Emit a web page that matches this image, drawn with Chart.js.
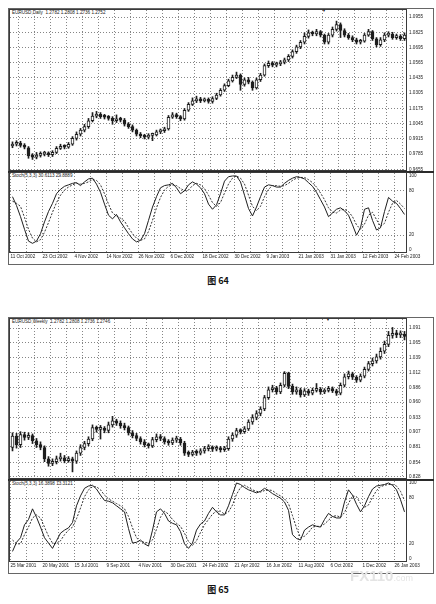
<!DOCTYPE html>
<html><head><meta charset="utf-8">
<script src="https://cdn.jsdelivr.net/npm/chart.js@4.4.0/dist/chart.umd.min.js"></script>
<style>
html,body{margin:0;padding:0;background:#fff;}
body{width:436px;height:604px;position:relative;overflow:hidden;font-family:"Liberation Sans",Arial,sans-serif;}
canvas{position:absolute;}
.box{position:absolute;box-sizing:border-box;border:1px solid #3a3a3a;}
.frame{position:absolute;box-sizing:border-box;border:1px solid #666;}
.sep{position:absolute;background:#2a2a2a;}
.t{position:absolute;font-size:4.6px;color:#222;white-space:nowrap;line-height:1;}
.cap{position:absolute;left:0;width:436px;text-align:center;font-family:"Noto Sans CJK SC",sans-serif;font-weight:bold;font-size:9px;color:#111;line-height:1;}
.wm{position:absolute;color:#e4e4e4;font-family:"Liberation Sans",sans-serif;font-weight:bold;font-size:15px;line-height:1;}
</style></head><body>

<!-- Figure 64 frames -->
<div class="frame" style="left:8px;top:8px;width:426px;height:257px;"></div>
<div class="box" style="left:9px;top:9px;width:398px;height:162px;"></div>
<div class="sep" style="left:8px;top:171px;width:426px;height:1.5px;"></div>
<div class="box" style="left:9px;top:172px;width:398px;height:81px;"></div>
<div class="t" style="left:12px;top:11px;">EURUSD,Daily&nbsp;&nbsp;1.2782 1.2808 1.2736 1.2752</div>
<div class="t" style="left:12px;top:174px;">Stoch(5,3,3) 30.6113 29.8889</div>
<div class="t" style="left:322px;top:9px;font-size:4px;">&#9660;</div>

<!-- Figure 65 frames -->
<div class="frame" style="left:8px;top:317px;width:426px;height:257px;"></div>
<div class="box" style="left:9px;top:318px;width:398px;height:161px;"></div>
<div class="sep" style="left:8px;top:479px;width:426px;height:1.5px;"></div>
<div class="box" style="left:9px;top:480px;width:398px;height:82px;"></div>
<div class="t" style="left:12px;top:320px;">EURUSD,Weekly&nbsp;&nbsp;1.2782 1.2808 1.2736 1.2746</div>
<div class="t" style="left:12px;top:482px;">Stoch(5,3,3) 16.3898 13.3121</div>
<div class="t" style="left:326px;top:318px;font-size:4px;">&#9660;</div>

<canvas id="p64" width="424" height="163" style="left:10px;top:10px;"></canvas>
<canvas id="s64" width="424" height="90" style="left:10px;top:173px;"></canvas>
<canvas id="p65" width="424" height="162" style="left:10px;top:319px;"></canvas>
<canvas id="s65" width="424" height="91" style="left:10px;top:481px;"></canvas>

<div class="cap" style="top:276px;">图 64</div>
<div class="cap" style="top:585px;">图 65</div>
<div class="wm" style="left:350px;top:568px;">FX110<span style="font-size:9px;font-weight:normal;">.com</span></div>

<script>
// ---------- Figure 64 (EURUSD Daily) ----------
const X64_LABELS = ['11 Oct 2002','23 Oct 2002','4 Nov 2002','14 Nov 2002','26 Nov 2002','6 Dec 2002','18 Dec 2002','30 Dec 2002','9 Jan 2003','21 Jan 2003','31 Jan 2003','12 Feb 2003','24 Feb 2003'];
const Y64_TICKS = [1.0955,1.0825,1.0695,1.0565,1.0435,1.0305,1.0175,1.0045,0.9915,0.9785,0.9655];
const O64 = [0.9855,0.9870,0.9880,0.9860,0.9840,0.9770,0.9760,0.9775,0.9785,0.9790,
 0.9780,0.9800,0.9835,0.9850,0.9845,0.9870,0.9920,0.9955,0.9990,1.0020,
 1.0070,1.0110,1.0125,1.0105,1.0100,1.0090,1.0070,1.0085,1.0075,1.0040,
 1.0020,0.9990,0.9955,0.9940,0.9930,0.9945,0.9950,0.9975,0.9985,1.0000,
 1.0100,1.0120,1.0105,1.0085,1.0160,1.0210,1.0240,1.0255,1.0240,1.0250,
 1.0235,1.0260,1.0290,1.0330,1.0370,1.0410,1.0440,1.0460,1.0380,1.0420,
 1.0400,1.0350,1.0420,1.0460,1.0540,1.0560,1.0545,1.0555,1.0570,1.0590,
 1.0620,1.0660,1.0700,1.0740,1.0790,1.0820,1.0810,1.0830,1.0800,1.0740,
 1.0800,1.0850,1.0890,1.0840,1.0800,1.0780,1.0760,1.0740,1.0750,1.0800,
 1.0830,1.0770,1.0720,1.0760,1.0800,1.0810,1.0780,1.0790,1.0770];
const H64 = [0.9890,0.9900,0.9895,0.9875,0.9850,0.9790,0.9800,0.9805,0.9810,0.9805,
 0.9815,0.9850,0.9870,0.9865,0.9885,0.9935,0.9975,1.0005,1.0040,1.0090,
 1.0140,1.0150,1.0140,1.0125,1.0115,1.0105,1.0120,1.0100,1.0090,1.0055,
 1.0035,1.0000,0.9970,0.9955,0.9960,0.9965,0.9990,1.0000,1.0015,1.0115,
 1.0140,1.0135,1.0115,1.0175,1.0225,1.0265,1.0280,1.0270,1.0265,1.0265,
 1.0275,1.0305,1.0345,1.0385,1.0425,1.0460,1.0485,1.0470,1.0435,1.0440,
 1.0410,1.0435,1.0475,1.0555,1.0580,1.0575,1.0570,1.0585,1.0605,1.0635,
 1.0675,1.0715,1.0755,1.0820,1.0845,1.0835,1.0850,1.0840,1.0810,1.0815,
 1.0870,1.0920,1.0905,1.0855,1.0815,1.0795,1.0775,1.0765,1.0815,1.0850,
 1.0840,1.0780,1.0780,1.0820,1.0830,1.0825,1.0810,1.0805,1.0820];
const L64 = [0.9840,0.9855,0.9845,0.9830,0.9750,0.9740,0.9745,0.9760,0.9770,0.9765,
 0.9765,0.9790,0.9825,0.9830,0.9835,0.9860,0.9905,0.9940,0.9975,1.0005,
 1.0060,1.0095,1.0090,1.0085,1.0075,1.0040,1.0055,1.0060,1.0025,1.0005,
 0.9975,0.9940,0.9925,0.9915,0.9915,0.9900,0.9940,0.9960,0.9970,0.9990,
 1.0090,1.0090,1.0070,1.0075,1.0150,1.0200,1.0225,1.0225,1.0230,1.0220,
 1.0220,1.0250,1.0280,1.0320,1.0360,1.0400,1.0430,1.0330,1.0365,1.0385,
 1.0330,1.0340,1.0405,1.0450,1.0525,1.0530,1.0530,1.0540,1.0555,1.0575,
 1.0605,1.0645,1.0685,1.0725,1.0775,1.0795,1.0795,1.0785,1.0725,1.0725,
 1.0785,1.0835,1.0780,1.0785,1.0765,1.0745,1.0725,1.0725,1.0740,1.0790,
 1.0755,1.0700,1.0705,1.0745,1.0785,1.0765,1.0765,1.0755,1.0755];
const C64 = [0.9870,0.9880,0.9860,0.9845,0.9770,0.9760,0.9775,0.9785,0.9790,0.9780,
 0.9800,0.9835,0.9850,0.9845,0.9870,0.9920,0.9955,0.9990,1.0020,1.0070,
 1.0110,1.0125,1.0105,1.0100,1.0090,1.0070,1.0085,1.0075,1.0040,1.0020,
 0.9990,0.9955,0.9940,0.9930,0.9945,0.9950,0.9975,0.9985,1.0000,1.0100,
 1.0120,1.0105,1.0085,1.0160,1.0210,1.0240,1.0255,1.0240,1.0250,1.0235,
 1.0260,1.0290,1.0330,1.0370,1.0410,1.0440,1.0460,1.0380,1.0420,1.0400,
 1.0350,1.0420,1.0460,1.0540,1.0560,1.0545,1.0555,1.0570,1.0590,1.0620,
 1.0660,1.0700,1.0740,1.0790,1.0820,1.0810,1.0830,1.0800,1.0740,1.0800,
 1.0850,1.0890,1.0840,1.0800,1.0780,1.0760,1.0740,1.0750,1.0800,1.0830,
 1.0770,1.0720,1.0760,1.0800,1.0810,1.0780,1.0790,1.0770,1.0800];
const K64 = [72,60,45,28,12,9,12,22,38,52,
 63,76,82,86,88,90,91,87,92,96,
 97,89,78,62,47,42,48,38,30,22,
 15,11,13,22,40,58,72,84,87,88,
 90,84,76,80,88,92,89,84,76,62,
 55,61,76,93,99,100,100,92,74,56,
 46,58,72,85,88,87,85,85,90,94,
 97,99,98,96,91,86,78,68,58,45,
 50,55,57,53,47,34,20,30,55,57,
 40,27,30,52,71,66,63,56,48];
const D64 = [66,63,59,44,28,16,11,14,24,37,
 51,64,74,81,85,88,90,89,90,92,
 95,94,88,76,62,50,46,43,39,30,
 22,16,13,15,25,40,57,71,81,86,
 88,87,83,80,81,87,90,88,83,74,
 64,59,64,77,89,97,100,97,89,74,
 59,53,59,72,82,87,87,86,87,90,
 94,97,98,98,95,91,85,77,68,57,
 51,50,54,55,52,45,34,28,35,47,
 51,41,32,36,51,63,67,62,56];

// ---------- Figure 65 (EURUSD Weekly) ----------
const X65_LABELS = ['25 Mar 2001','20 May 2001','15 Jul 2001','9 Sep 2001','4 Nov 2001','30 Dec 2001','24 Feb 2002','21 Apr 2002','16 Jun 2002','11 Aug 2002','6 Oct 2002','1 Dec 2002','26 Jan 2003'];
const Y65_TICKS = [1.091,1.065,1.039,1.012,0.986,0.960,0.933,0.907,0.881,0.854,0.828];
const O65 = [0.8800,0.9000,0.8850,0.9030,0.8980,0.9010,0.8920,0.8850,0.8800,0.8600,
 0.8520,0.8550,0.8600,0.8620,0.8570,0.8600,0.8560,0.8700,0.8800,0.8870,
 0.8950,0.9150,0.9120,0.9140,0.9100,0.9200,0.9270,0.9230,0.9180,0.9150,
 0.9060,0.9010,0.8960,0.8900,0.8850,0.8830,0.8940,0.8990,0.8960,0.8900,
 0.8880,0.8930,0.8950,0.8880,0.8700,0.8680,0.8720,0.8700,0.8740,0.8780,
 0.8800,0.8770,0.8790,0.8760,0.8780,0.8950,0.9020,0.9100,0.9080,0.9130,
 0.9250,0.9330,0.9400,0.9480,0.9680,0.9820,0.9850,0.9780,0.9900,1.0110,
 0.9880,0.9780,0.9820,0.9730,0.9800,0.9760,0.9810,0.9830,0.9780,0.9810,
 0.9840,0.9800,0.9760,0.9900,1.0050,1.0100,1.0040,0.9990,1.0060,1.0180,
 1.0280,1.0330,1.0400,1.0500,1.0620,1.0780,1.0810,1.0790,1.0800];
const H65 = [0.9060,0.9050,0.9080,0.9070,0.9060,0.9040,0.8960,0.8900,0.8830,0.8640,
 0.8600,0.8650,0.8700,0.8660,0.8640,0.8630,0.8740,0.8850,0.8910,0.8990,
 0.9200,0.9180,0.9190,0.9170,0.9250,0.9350,0.9300,0.9270,0.9230,0.9180,
 0.9100,0.9050,0.8990,0.8940,0.8880,0.8980,0.9040,0.9030,0.8990,0.8940,
 0.8970,0.9000,0.8980,0.8910,0.8740,0.8750,0.8760,0.8780,0.8820,0.8850,
 0.8830,0.8830,0.8820,0.8820,0.8990,0.9060,0.9140,0.9130,0.9170,0.9290,
 0.9380,0.9450,0.9520,0.9720,0.9870,0.9900,0.9880,0.9940,1.0140,1.0130,
 0.9920,0.9870,0.9850,0.9840,0.9830,0.9850,0.9930,0.9860,0.9840,0.9880,
 0.9870,0.9830,0.9940,1.0100,1.0150,1.0130,1.0070,1.0100,1.0220,1.0320,
 1.0380,1.0450,1.0560,1.0680,1.0850,1.0920,1.0870,1.0860,1.0850];
const L65 = [0.8740,0.8790,0.8800,0.8930,0.8940,0.8870,0.8800,0.8760,0.8550,0.8470,
 0.8480,0.8510,0.8560,0.8530,0.8540,0.8370,0.8520,0.8660,0.8760,0.8830,
 0.8920,0.9070,0.8950,0.9060,0.9060,0.9160,0.9190,0.9140,0.9110,0.9020,
 0.8970,0.8920,0.8860,0.8810,0.8790,0.8800,0.8900,0.8920,0.8860,0.8840,
 0.8850,0.8890,0.8840,0.8660,0.8640,0.8650,0.8660,0.8670,0.8700,0.8740,
 0.8730,0.8740,0.8720,0.8730,0.8750,0.8910,0.8980,0.9040,0.9050,0.9100,
 0.9210,0.9290,0.9360,0.9450,0.9650,0.9780,0.9740,0.9750,0.9870,0.9840,
 0.9740,0.9740,0.9690,0.9700,0.9720,0.9730,0.9780,0.9740,0.9750,0.9780,
 0.9770,0.9720,0.9730,0.9870,1.0010,1.0000,0.9950,0.9960,1.0030,1.0150,
 1.0240,1.0290,1.0360,1.0460,1.0580,1.0730,1.0740,1.0740,1.0700];
const C65 = [0.9000,0.8850,0.9030,0.8980,0.9010,0.8920,0.8850,0.8800,0.8600,0.8520,
 0.8550,0.8600,0.8620,0.8570,0.8600,0.8560,0.8700,0.8800,0.8870,0.8950,
 0.9150,0.9120,0.9140,0.9100,0.9200,0.9270,0.9230,0.9180,0.9150,0.9060,
 0.9010,0.8960,0.8900,0.8850,0.8830,0.8940,0.8990,0.8960,0.8900,0.8880,
 0.8930,0.8950,0.8880,0.8700,0.8680,0.8720,0.8700,0.8740,0.8780,0.8800,
 0.8770,0.8790,0.8760,0.8780,0.8950,0.9020,0.9100,0.9080,0.9130,0.9250,
 0.9330,0.9400,0.9480,0.9680,0.9820,0.9850,0.9780,0.9900,1.0110,0.9880,
 0.9780,0.9820,0.9730,0.9800,0.9760,0.9810,0.9830,0.9780,0.9810,0.9840,
 0.9800,0.9760,0.9900,1.0050,1.0100,1.0040,0.9990,1.0060,1.0180,1.0280,
 1.0330,1.0400,1.0500,1.0620,1.0780,1.0810,1.0790,1.0800,1.0760];
const K65 = [10,22,28,45,52,66,55,42,28,21,
 14,24,34,38,41,48,70,83,93,96,
 97,92,84,77,76,74,70,66,62,40,
 21,22,25,20,17,38,62,66,60,50,
 47,45,36,20,14,21,38,46,50,60,
 68,62,58,58,70,85,100,98,94,91,
 89,87,89,93,90,86,83,80,75,64,
 32,27,25,38,42,45,43,42,52,60,
 56,54,54,75,91,84,72,62,70,82,
 92,96,97,98,100,97,91,78,62];
const D65 = [25,20,20,32,42,54,58,54,42,30,
 21,20,24,32,38,42,53,67,82,91,
 95,95,91,84,79,76,73,70,66,56,
 41,28,23,22,21,25,39,55,63,59,
 52,47,43,34,23,18,24,35,45,52,
 59,63,63,59,62,71,85,94,97,94,
 91,89,88,90,91,90,86,83,79,73,
 57,41,28,30,35,42,43,43,46,51,
 56,57,55,61,73,83,82,73,68,71,
 81,90,95,97,98,98,96,89,77];
const STOCH_TICKS = [100,80,20,0];

// ---------- shared styling ----------
const INK = '#1e1e1e';
const GRID_C = '#858585';
const FONT = {family:'Liberation Sans', size:4.6};
const TXT = '#222';
const XMIN = -0.625, XMAX = 98.375;
const GRID_POS = Array.from({length:25}, (_, j) => -0.5 + 4 * j);

function baseOpts() {
  return {
    responsive:false, animation:false, events:[], devicePixelRatio:1,
    layout:{padding:0},
    plugins:{legend:{display:false}, tooltip:{enabled:false}, title:{display:false}}
  };
}

function xScale(labels) {
  const show = !!labels;
  return {
    type:'linear', min:XMIN, max:XMAX, offset:false,
    afterBuildTicks: s => { s.ticks = GRID_POS.map(v => ({value:v})); },
    afterFit: s => { s.height = show ? 11 : 3; s.paddingLeft = 0; s.paddingRight = 0; },
    ticks: show ? {
      display:true, autoSkip:false, maxRotation:0, minRotation:0, align:'start', padding:2,
      font:FONT, color:TXT,
      callback: (v, i) => (i % 2 === 0 ? labels[i / 2] : '')
    } : {display:false},
    grid:{color:GRID_C, lineWidth:1, drawTicks:false},
    border:{display:false, dash:[1,2]}
  };
}

function yScale(min, max, ticks, fmt, gridColor) {
  return {
    type:'linear', position:'right', min:min, max:max, beginAtZero:false,
    afterBuildTicks: s => { s.ticks = ticks.map(v => ({value:v})); },
    afterFit: s => { s.width = 28; s.paddingTop = 0; s.paddingBottom = 0; },
    ticks:{autoSkip:false, font:FONT, color:TXT, padding:3, crossAlign:'near', callback: v => fmt(v)},
    grid:{color: gridColor || GRID_C, lineWidth:1, drawTicks:false},
    border:{display:false, dash:[1,2]}
  };
}

function priceChart(id, O, H, L, C, yMin, yMax, ticks, dec) {
  const body = C.map((c, i) => ({x:i, y:[O[i], c]}));
  const wick = C.map((c, i) => ({x:i, y:[L[i], H[i]]}));
  const fill = C.map((c, i) => (c >= O[i] ? '#ffffff' : INK));
  const opts = baseOpts();
  opts.scales = { x: xScale(null), y: yScale(yMin, yMax, ticks, v => Number(v).toFixed(dec)) };
  new Chart(document.getElementById(id), {
    type:'bar',
    data:{datasets:[
      {data:body, backgroundColor:fill, borderColor:INK, borderWidth:1, borderSkipped:false,
       barThickness:3, minBarLength:2, grouped:false, order:0},
      {data:wick, backgroundColor:INK, borderWidth:0, barThickness:1, grouped:false, order:1}
    ]},
    options:opts
  });
}

function stochChart(id, K, D, labels, yMin, yMax) {
  const opts = baseOpts();
  const lvl = c => (c.tick && (c.tick.value === 20 || c.tick.value === 80)) ? GRID_C : 'rgba(0,0,0,0)';
  opts.scales = { x: xScale(labels), y: yScale(yMin, yMax, STOCH_TICKS, v => String(v), lvl) };
  new Chart(document.getElementById(id), {
    type:'line',
    data:{datasets:[
      {data:K.map((v, i) => ({x:i, y:v})), borderColor:INK, borderWidth:1, pointRadius:0, tension:0, fill:false},
      {data:D.map((v, i) => ({x:i, y:v})), borderColor:'#333', borderWidth:1, borderDash:[2,1.5], pointRadius:0, tension:0, fill:false}
    ]},
    options:opts
  });
}

priceChart('p64', O64, H64, L64, C64, 0.9650, 1.1015, Y64_TICKS, 4);
stochChart('s64', K64, D64, X64_LABELS, -2.7, 104);
priceChart('p65', O65, H65, L65, C65, 0.8262, 1.1069, Y65_TICKS, 3);
stochChart('s65', K65, D65, X65_LABELS, -2.6, 102.6);
</script>
</body></html>
